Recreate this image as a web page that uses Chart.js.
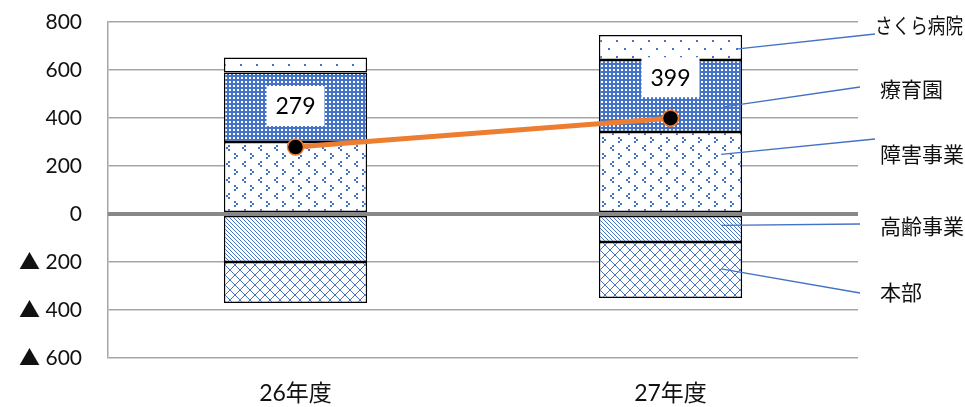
<!DOCTYPE html>
<html>
<head>
<meta charset="utf-8">
<script src="https://cdn.jsdelivr.net/npm/chart.js@4/dist/chart.umd.min.js"></script>
<style>
  html, body { margin: 0; padding: 0; background: #fff; }
  #wrap { width: 965px; height: 407px; }
</style>
</head>
<body>
<div id="wrap"><canvas id="grafico"></canvas></div>
<script>
// ===============================
// DADOS
// ===============================
const categorias = ['26年度', '27年度'];
const shogai  = [300, 342];    // 障害事業
const ryoiku  = [290, 300];    // 療育園
const sakura  = [62, 104];     // さくら病院
const korei   = [-200, -117];  // 高齢事業
const honbu   = [-171, -233];  // 本部
const total   = [279, 399];    // 合計 (line)
const yTicks  = [-600, -400, -200, 0, 200, 400, 600, 800];

const BLUE = '#4472C4';
const FONT = 'Lato, "Noto Sans CJK JP", sans-serif';
const FONT_JP = '"Noto Sans CJK JP", sans-serif';

// ===============================
// PADRÕES (hachuras)
// ===============================
function makePattern(w, h, bg, draw) {
  const c = document.createElement('canvas');
  c.width = w; c.height = h;
  const g = c.getContext('2d');
  g.fillStyle = bg;
  g.fillRect(0, 0, w, h);
  g.fillStyle = BLUE;
  draw(g);
  return g.createPattern(c, 'repeat');
}

const patSakura = makePattern(16, 16, '#fff', g => {
  g.fillRect(0, 0, 2, 2);
  g.fillRect(8, 8, 2, 2);
});
const patRyoiku = makePattern(4, 4, BLUE, g => {
  g.fillStyle = '#fff';
  g.fillRect(1, 1, 2, 2);
});
const patShogai = makePattern(16, 16, '#fff', g => {
  // "<" e ">" alternados
  g.fillRect(4, 1, 2, 2); g.fillRect(2, 3, 2, 2); g.fillRect(4, 5, 2, 2);
  g.fillRect(10, 9, 2, 2); g.fillRect(12, 11, 2, 2); g.fillRect(10, 13, 2, 2);
});
const patKorei = makePattern(4, 4, '#fff', g => {
  for (let i = 0; i < 4; i++) g.fillRect(i, i, 1, 1);
});
const patHonbu = makePattern(10, 10, '#fff', g => {
  for (let i = 0; i < 10; i++) { g.fillRect(i, i, 1, 1); g.fillRect(9 - i, i, 1, 1); }
});

// ===============================
// RÓTULOS À DIREITA (linhas de chamada)
// ===============================
// datasetIndex, fração vertical no segmento, recuo da borda direita, ponto final, texto
const chamadas = [
  { ds: 2, f: 0.56, dx: 4,  end: [875, 34],  tx: 875, ty: 25, maxW: 88 },
  { ds: 1, f: 0.65, dx: 17, end: [860, 87],  tx: 880, ty: 89 },
  { ds: 0, f: 0.28, dx: 21, end: [875, 139], tx: 880, ty: 154 },
  { ds: 3, f: 0.36, dx: 21, end: [860, 224], tx: 880, ty: 226 },
  { ds: 4, f: 0.48, dx: 21, end: [860, 293], tx: 880, ty: 292 }
];

// linha do zero por cima das barras
const pluginZero = {
  id: 'zero',
  afterDatasetsDraw(chart) {
    const { ctx, chartArea, scales } = chart;
    const y = scales.y.getPixelForValue(0);
    ctx.save();
    ctx.strokeStyle = '#888888';
    ctx.lineWidth = 4;
    ctx.beginPath();
    ctx.moveTo(chartArea.left, y);
    ctx.lineTo(chartArea.right, y);
    ctx.stroke();
    ctx.restore();
  }
};

const pluginChamadas = {
  id: 'chamadas',
  afterDatasetsDraw(chart) {
    const ctx = chart.ctx;
    ctx.save();
    chamadas.forEach(c => {
      const el = chart.getDatasetMeta(c.ds).data[1];
      const top = Math.min(el.y, el.base), bot = Math.max(el.y, el.base);
      const x0 = el.x + el.width / 2 - c.dx;
      const y0 = top + (bot - top) * c.f;
      ctx.strokeStyle = BLUE;
      ctx.lineWidth = 1.3;
      ctx.beginPath();
      ctx.moveTo(x0, y0);
      ctx.lineTo(c.end[0], c.end[1]);
      ctx.stroke();
      ctx.fillStyle = '#111';
      ctx.font = '21px ' + FONT_JP;
      ctx.textAlign = 'left';
      ctx.textBaseline = 'middle';
      const txt = chart.data.datasets[c.ds].label;
      if (c.maxW) ctx.fillText(txt, c.tx, c.ty, c.maxW);
      else ctx.fillText(txt, c.tx, c.ty);
    });
    ctx.restore();
  }
};

// rótulos do total (caixa branca acima do ponto)
const pluginTotais = {
  id: 'totais',
  afterDatasetsDraw(chart) {
    const ctx = chart.ctx;
    const meta = chart.getDatasetMeta(5);
    ctx.save();
    ctx.font = '23px ' + FONT;
    ctx.textAlign = 'center';
    ctx.textBaseline = 'middle';
    meta.data.forEach((pt, i) => {
      const cx = pt.x, cy = pt.y - 41;
      ctx.fillStyle = '#fff';
      ctx.fillRect(cx - 29, cy - 20, 58, 40);
      ctx.fillStyle = '#000';
      ctx.fillText(String(total[i]), cx, cy + 1);
    });
    ctx.restore();
  }
};

// ===============================
// GRÁFICO
// ===============================
function barra(label, data, bg) {
  return {
    type: 'bar', label, data, backgroundColor: bg,
    borderColor: '#000', borderWidth: 1.5, borderSkipped: false,
    stack: 'bar', order: 1,
    categoryPercentage: 1, barPercentage: 0.382
  };
}

new Chart(document.getElementById('grafico'), {
  data: {
    labels: categorias,
    datasets: [
      barra('障害事業', shogai, patShogai),
      barra('療育園', ryoiku, patRyoiku),
      barra('さくら病院', sakura, patSakura),
      barra('高齢事業', korei, patKorei),
      barra('本部', honbu, patHonbu),
      {
        type: 'line', label: '合計', data: total, stack: 'line', order: 0,
        borderColor: '#ED7D31', borderWidth: 5,
        pointRadius: 8, pointHoverRadius: 8,
        pointBackgroundColor: '#000', pointBorderColor: '#ED7D31', pointBorderWidth: 1.5
      }
    ]
  },
  options: {
    responsive: true,
    maintainAspectRatio: false,
    animation: false,
    layout: { padding: { top: 22, right: 107, bottom: 0, left: 0 } },
    plugins: {
      legend: { display: false },
      tooltip: { enabled: false }
    },
    scales: {
      x: {
        stacked: true,
        grid: { display: false },
        border: { display: false },
        ticks: { color: '#111', font: { family: FONT, size: 23 }, padding: 14 },
        afterFit: s => { s.height = 49; }
      },
      y: {
        stacked: true,
        min: -600, max: 800,
        afterBuildTicks: s => { s.ticks = yTicks.map(v => ({ value: v })); },
        ticks: {
          color: '#111',
          font: { family: FONT, size: 21 },
          padding: 26,
          callback: v => v < 0 ? '▲ ' + (-v) : String(v)
        },
        grid: {
          drawTicks: false,
          color: c => c.tick && c.tick.value === 0 ? '#888888' : '#a6a6a6',
          lineWidth: c => c.tick && c.tick.value === 0 ? 4 : 1.5
        },
        border: { display: true, color: '#a6a6a6', width: 1.5 },
        afterFit: s => { s.width = 108; s.paddingTop = 0; s.paddingBottom = 0; }
      }
    }
  },
  plugins: [pluginZero, pluginTotais, pluginChamadas]
});
</script>
</body>
</html>
